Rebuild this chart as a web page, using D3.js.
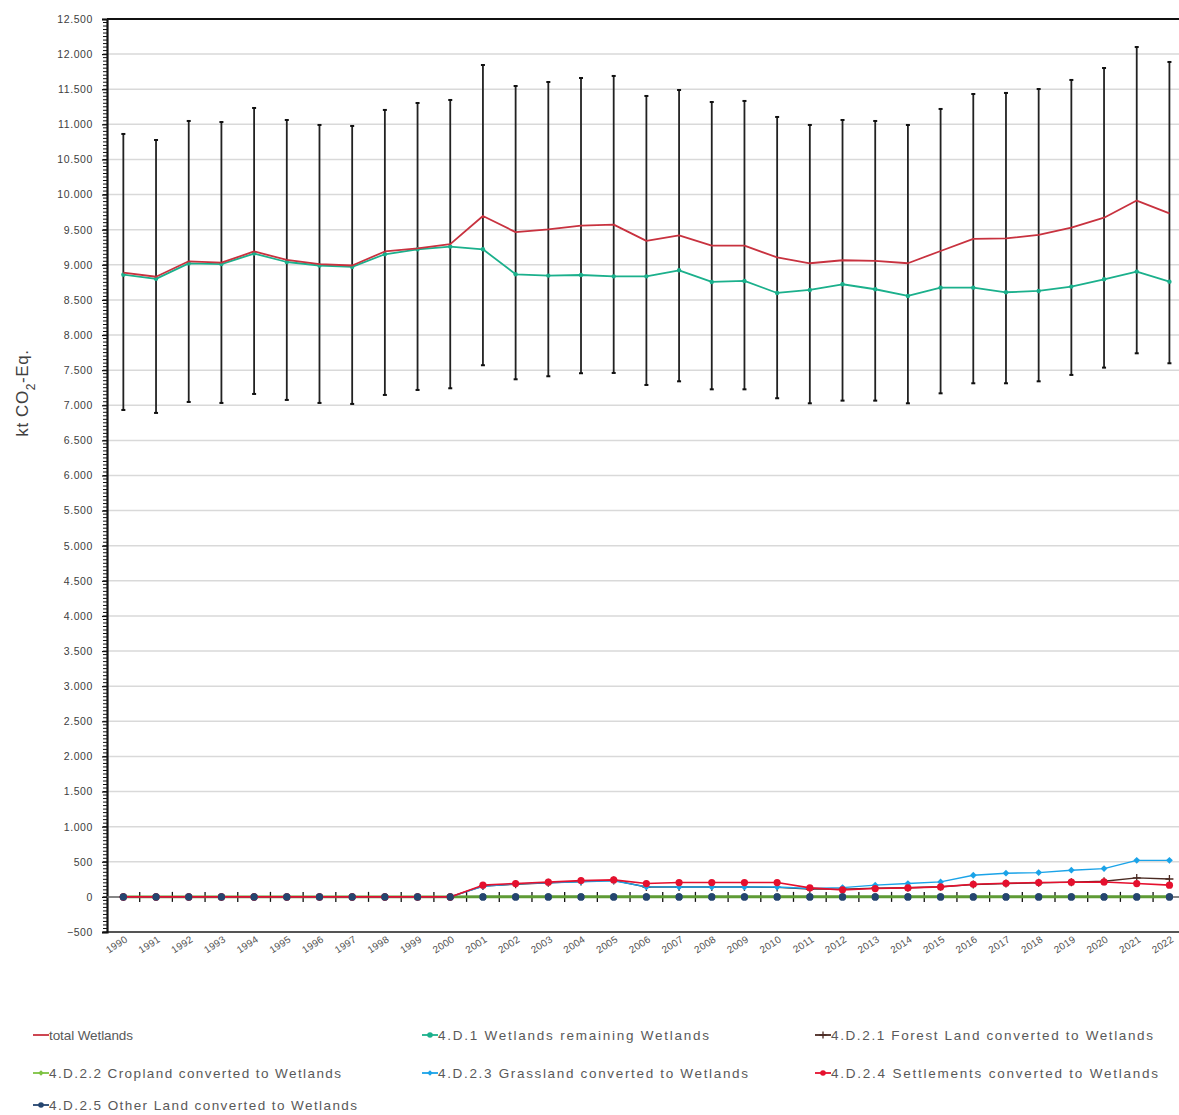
<!DOCTYPE html>
<html>
<head>
<meta charset="utf-8">
<script src="https://cdn.jsdelivr.net/npm/d3@7"></script>
<style>
  body { margin: 0; background: #fff; }
  text { font-family: "Liberation Sans", "DejaVu Sans", sans-serif; }
</style>
</head>
<body>
<svg id="chart"></svg>
<script>
// years on the category axis
const years = d3.range(1990, 2023);

// total Wetlands (kt CO2-Eq.)
const totalWetlands = [8890, 8830, 9050, 9030, 9190, 9070, 9010, 8990, 9190, 9235, 9295,
  9695, 9465, 9505, 9558, 9572, 9340, 9420, 9273, 9273, 9105,
  9022, 9065, 9055, 9022, 9197, 9368, 9375, 9425, 9529, 9671, 9915, 9733];
// uncertainty range of the total
const upper = [10863, 10777, 11048, 11033, 11233, 11062, 10991, 10977, 11205, 11304, 11347,
  11845, 11546, 11603, 11660, 11689, 11404, 11489, 11318, 11333, 11105,
  10991, 11062, 11048, 10991, 11219, 11432, 11447, 11503, 11632, 11802, 12101, 11888];
const lower = [6933, 6891, 7047, 7033, 7161, 7076, 7033, 7019, 7147, 7218, 7242,
  7570, 7370, 7413, 7456, 7460, 7289, 7341, 7227, 7227, 7100,
  7028, 7066, 7066, 7028, 7170, 7313, 7313, 7341, 7432, 7536, 7740, 7598];

const wetlandsRemaining = [8860, 8800, 9020, 9010, 9160, 9040, 8990, 8970, 9150, 9221, 9259,
  9221, 8865, 8846, 8855, 8836, 8836, 8922, 8756, 8770, 8599,
  8642, 8723, 8652, 8556, 8675, 8675, 8609, 8628, 8690, 8794, 8903, 8760];
const forestLand = [0, 0, 0, 0, 0, 0, 0, 0, 0, 0, 0,
  155, 180, 200, 220, 235, 140, 140, 140, 140, 135,
  110, 110, 125, 130, 145, 175, 190, 200, 210, 222, 270, 255];
const cropland = [0, 0, 0, 0, 0, 0, 0, 0, 0, 0, 0,
  2, 2, 2, 2, 2, 2, 2, 2, 2, 2,
  2, 2, 2, 2, 2, 2, 2, 2, 2, 2, 2, 2];
const grassland = [0, 0, 0, 0, 0, 0, 0, 0, 0, 0, 0,
  150, 185, 200, 215, 230, 142, 140, 140, 140, 140,
  120, 132, 167, 190, 213, 308, 337, 346, 380, 403, 520, 520];
const settlements = [0, 0, 0, 0, 0, 0, 0, 0, 0, 0, 0,
  167, 190, 210, 232, 242, 190, 204, 204, 204, 204,
  128, 100, 119, 128, 142, 180, 194, 204, 209, 213, 190, 167];
const otherLand = years.map(() => 0);

const yTicks = d3.range(-500, 12501, 500);

// draw order = list order; legend slot given by col/row, text width matches the source
const series = [
  { name: "4.D.2.5 Other Land converted to Wetlands", values: otherLand, color: "#24456F", width: 1.2, marker: "circle", r: 3.6, col: 0, row: 2, tw: 308 },
  { name: "4.D.2.2 Cropland converted to Wetlands", values: cropland, color: "#5E9B35", width: 2.8, marker: "diamond", r: 3, col: 0, row: 1, legendColor: "#7DC242", tw: 292 },
  { name: "4.D.2.1 Forest Land converted to Wetlands", values: forestLand, color: "#4A2A22", width: 1.4, marker: "plus", r: 4, col: 2, row: 0, tw: 322 },
  { name: "4.D.2.3 Grassland  converted to Wetlands", values: grassland, color: "#1AA3E8", width: 1.4, marker: "diamond", r: 3.4, col: 1, row: 1, tw: 310 },
  { name: "4.D.2.4 Settlements converted to Wetlands", values: settlements, color: "#E5102E", width: 1.6, marker: "circle", r: 3.6, col: 2, row: 1, tw: 327 },
  { name: "4.D.1 Wetlands remaining Wetlands", values: wetlandsRemaining, color: "#1BB08C", width: 1.8, marker: "circle", r: 2.2, col: 1, row: 0, tw: 271 },
  { name: "total Wetlands", values: totalWetlands, color: "#C8323F", width: 1.8, marker: null, col: 0, row: 0, tw: 84 }
];

const width = 1179, height = 1115;
const margin = { top: 19, left: 107 };
const plotBottom = 932;

const svg = d3.select("#chart").attr("width", width).attr("height", height);

const x = d3.scaleBand().domain(years).range([margin.left, margin.left + 33 * 32.69]).padding(0);
const xc = yr => x(yr) + x.bandwidth() / 2;
const y = d3.scaleLinear().domain([-500, 12500]).range([plotBottom, margin.top]);

// gridlines
svg.append("g").selectAll("line").data(yTicks.filter(d => d !== 12500 && d !== -500)).join("line")
  .attr("x1", margin.left).attr("x2", width)
  .attr("y1", d => y(d)).attr("y2", d => y(d))
  .attr("stroke", "#d9d9d9").attr("stroke-width", 1.5);

// plot border top / bottom
svg.append("line").attr("x1", margin.left).attr("x2", width).attr("y1", y(12500)).attr("y2", y(12500))
  .attr("stroke", "#111").attr("stroke-width", 2);
svg.append("line").attr("x1", margin.left).attr("x2", width).attr("y1", y(-500)).attr("y2", y(-500))
  .attr("stroke", "#555").attr("stroke-width", 2);

// y axis with minor ticks
const yAxis = d3.axisLeft(y).tickValues(yTicks).tickSize(5)
  .tickFormat(d => d3.format(",")(d).replace(/,/g, "."));
const yAxisG = svg.append("g").attr("transform", `translate(${margin.left},0)`).call(yAxis);
yAxisG.select(".domain").attr("stroke", "#111").attr("stroke-width", 2.2);
yAxisG.selectAll(".tick line").attr("stroke", "#111").attr("stroke-width", 1.2);
yAxisG.selectAll(".tick text").attr("x", -14).attr("font-size", 10.5)
  .attr("letter-spacing", 0.6).attr("fill", "#404040");
svg.append("g").selectAll("line").data(d3.range(-500, 12500, 50)).join("line")
  .attr("x1", margin.left - 4).attr("x2", margin.left)
  .attr("y1", d => y(d)).attr("y2", d => y(d))
  .attr("stroke", "#111").attr("stroke-width", 1);

// y title
svg.append("text")
  .attr("transform", `translate(28,393) rotate(-90)`)
  .attr("text-anchor", "middle").attr("font-size", 17).attr("letter-spacing", 0.6).attr("fill", "#404040")
  .html('kt CO<tspan baseline-shift="sub" font-size="12">2</tspan>-Eq.');

// category axis on zero line
svg.append("line").attr("x1", margin.left).attr("x2", width).attr("y1", y(0)).attr("y2", y(0))
  .attr("stroke", "#666").attr("stroke-width", 1.5);
svg.append("g").selectAll("line").data(years.slice(1).concat([2023])).join("line")
  .attr("x1", d => d === 2023 ? x(2022) + x.bandwidth() : x(d))
  .attr("x2", d => d === 2023 ? x(2022) + x.bandwidth() : x(d))
  .attr("y1", y(0) - 5).attr("y2", y(0) + 5)
  .attr("stroke", "#111").attr("stroke-width", 1.3);

// year labels
svg.append("g").selectAll("text").data(years).join("text")
  .attr("transform", d => `translate(${xc(d) + 5},${plotBottom + 9}) rotate(-33)`)
  .attr("text-anchor", "end").attr("font-size", 10).attr("letter-spacing", 0.3).attr("fill", "#505050")
  .text(d => d);

// error bars
const eb = svg.append("g");
eb.selectAll("line").data(years).join("line")
  .attr("x1", d => xc(d)).attr("x2", d => xc(d))
  .attr("y1", (d, i) => y(upper[i])).attr("y2", (d, i) => y(lower[i]))
  .attr("stroke", "#222").attr("stroke-width", 1.8);
eb.selectAll("rect.cap").data(years.flatMap((d, i) => [[d, upper[i]], [d, lower[i]]])).join("rect")
  .attr("class", "cap")
  .attr("x", d => xc(d[0]) - 2).attr("y", d => y(d[1]) - 1)
  .attr("width", 4).attr("height", 2).attr("fill", "#111");

function drawMarker(g, type, cx, cy, r, color) {
  if (type === "circle") {
    g.append("circle").attr("cx", cx).attr("cy", cy).attr("r", r).attr("fill", color);
  } else if (type === "diamond") {
    g.append("path").attr("d", `M${cx},${cy - r}L${cx + r},${cy}L${cx},${cy + r}L${cx - r},${cy}Z`).attr("fill", color);
  } else if (type === "plus") {
    g.append("path").attr("d", `M${cx - r},${cy}H${cx + r}M${cx},${cy - r}V${cy + r}`)
      .attr("stroke", color).attr("stroke-width", 1.3);
  }
}

const line = d3.line().x((d, i) => xc(years[i])).y(d => y(d));
const seriesG = svg.append("g");
series.forEach(s => {
  seriesG.append("path").datum(s.values).attr("d", line)
    .attr("fill", "none").attr("stroke", s.color).attr("stroke-width", s.width)
    .attr("stroke-linejoin", "round");
  if (s.marker) {
    s.values.forEach((v, i) => drawMarker(seriesG, s.marker, xc(years[i]), y(v), s.r, s.color));
  }
});
// other land markers on top of the zero line
const otherS = series[0];
otherS.values.forEach((v, i) => drawMarker(seriesG, "circle", xc(years[i]), y(v), otherS.r, otherS.color));

// legend
const colX = [33, 422, 815], rowY = [1035, 1073, 1105];
const legend = svg.append("g");
series.forEach(s => {
  const lx = colX[s.col], ly = rowY[s.row];
  const c = s.legendColor || s.color;
  legend.append("line").attr("x1", lx).attr("x2", lx + 16).attr("y1", ly).attr("y2", ly)
    .attr("stroke", c).attr("stroke-width", 1.8);
  if (s.marker) drawMarker(legend, s.marker, lx + 8, ly, s.marker === "plus" ? 3.5 : 2.8, c);
  legend.append("text").attr("x", lx + 16).attr("y", ly + 5)
    .attr("font-size", 13.5).attr("fill", "#595959")
    .attr("textLength", s.tw).attr("lengthAdjust", "spacing")
    .text(s.name);
});
</script>
</body>
</html>
